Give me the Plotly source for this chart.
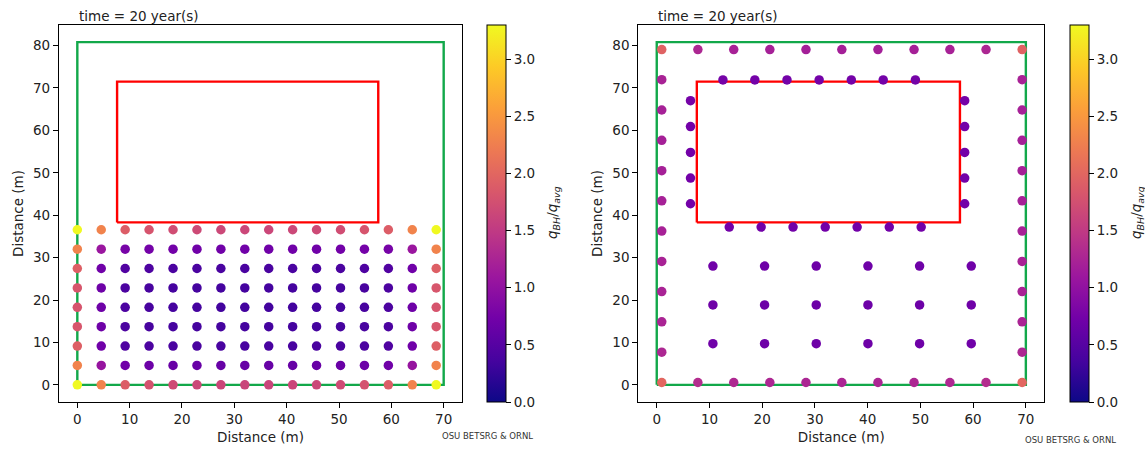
import plotly.graph_objects as go

W, H = 1145, 449

# ---------------- data ----------------
X_TICKS = [0, 10, 20, 30, 40, 50, 60, 70]
Y_TICKS = [0, 10, 20, 30, 40, 50, 60, 70, 80]
CB_TICKS = [0.0, 0.5, 1.0, 1.5, 2.0, 2.5, 3.0]
Q_MIN, Q_MAX = 0.0, 3.3

# property boundary (green) and building footprint (red)
FIELD_X = [0, 70, 70, 0, 0]
FIELD_Y = [0, 0, 80.8, 80.8, 0]
BUILDING_X = [7.6, 57.5, 57.5, 7.6, 7.6]
BUILDING_Y = [38.3, 38.3, 71.5, 71.5, 38.3]

# left panel: rectangular borehole grid
LEFT_COLS = [0.0, 4.57, 9.14, 13.71, 18.29, 22.86, 27.43, 32.0, 36.57,
             41.14, 45.71, 50.29, 54.86, 59.43, 64.0, 68.57]
LEFT_ROWS = [0.0, 4.57, 9.14, 13.71, 18.29, 22.86, 27.43, 32.0, 36.57]
LEFT_Q = [
    [3.30, 2.30, 1.90, 1.78, 1.70, 1.66, 1.64, 1.63, 1.63, 1.64, 1.66, 1.70, 1.78, 1.90, 2.30, 3.30],
    [2.30, 1.05, 0.72, 0.68, 0.66, 0.65, 0.64, 0.64, 0.64, 0.64, 0.65, 0.66, 0.68, 0.72, 1.05, 2.30],
    [1.92, 0.72, 0.45, 0.42, 0.40, 0.40, 0.39, 0.39, 0.39, 0.39, 0.40, 0.40, 0.42, 0.45, 0.72, 1.92],
    [1.82, 0.70, 0.42, 0.38, 0.37, 0.36, 0.36, 0.36, 0.36, 0.36, 0.36, 0.37, 0.38, 0.42, 0.70, 1.82],
    [1.80, 0.70, 0.42, 0.38, 0.36, 0.36, 0.35, 0.35, 0.35, 0.35, 0.36, 0.36, 0.38, 0.42, 0.70, 1.80],
    [1.82, 0.70, 0.42, 0.38, 0.37, 0.36, 0.36, 0.36, 0.36, 0.36, 0.36, 0.37, 0.38, 0.42, 0.70, 1.82],
    [1.92, 0.72, 0.46, 0.43, 0.41, 0.41, 0.40, 0.40, 0.40, 0.40, 0.41, 0.41, 0.43, 0.46, 0.72, 1.92],
    [2.30, 1.08, 0.78, 0.75, 0.73, 0.72, 0.72, 0.72, 0.72, 0.72, 0.72, 0.73, 0.75, 0.78, 1.08, 2.30],
    [3.30, 2.30, 1.90, 1.80, 1.72, 1.68, 1.66, 1.65, 1.65, 1.66, 1.68, 1.72, 1.80, 1.90, 2.30, 3.30],
]

# right panel: outer perimeter ring
OUT_COLS = [0.95, 7.8, 14.6, 21.45, 28.3, 35.1, 41.95, 48.8, 55.6, 62.45, 69.3]
OUT_ROWS = [0.56, 7.7, 14.85, 22.0, 29.1, 36.25, 43.4, 50.5, 57.65, 64.8, 71.95, 79.06]
OUT_Q_BOTTOM = [2.00, 1.35, 1.30, 1.28, 1.27, 1.27, 1.27, 1.28, 1.30, 1.35, 2.00]
OUT_Q_TOP = [1.95, 1.28, 1.22, 1.20, 1.19, 1.19, 1.19, 1.20, 1.22, 1.28, 1.95]
OUT_Q_LEFT = [1.28, 1.25, 1.24, 1.23, 1.22, 1.21, 1.20, 1.20, 1.21, 1.23]
OUT_Q_RIGHT = [1.28, 1.25, 1.24, 1.23, 1.22, 1.21, 1.20, 1.20, 1.21, 1.23]

# right panel: ring around the building
RING_TOP_X = [12.55, 18.6, 24.7, 30.8, 36.9, 42.95, 49.05]
RING_TOP_Y = 71.9
RING_BOT_X = [13.75, 19.8, 25.85, 31.95, 38.0, 44.1, 50.15]
RING_BOT_Y = 37.2
RING_SIDE_Y = [42.7, 48.75, 54.8, 60.9, 67.0]
RING_LEFT_X = 6.4
RING_RIGHT_X = 58.4
RING_Q_TOP = [0.76, 0.75, 0.75, 0.75, 0.75, 0.75, 0.76]
RING_Q_BOT = [0.74, 0.73, 0.73, 0.73, 0.73, 0.73, 0.74]
RING_Q_LEFT = [0.74, 0.74, 0.74, 0.74, 0.76]
RING_Q_RIGHT = [0.74, 0.74, 0.74, 0.74, 0.76]

# right panel: interior grid
IN_COLS = [10.65, 20.45, 30.25, 40.05, 49.85, 59.65]
IN_ROWS = [9.7, 18.85, 28.0]
IN_Q = [
    [0.72, 0.70, 0.70, 0.70, 0.70, 0.72],
    [0.71, 0.69, 0.69, 0.69, 0.69, 0.71],
    [0.72, 0.70, 0.70, 0.70, 0.70, 0.72],
]

# ---------------- build point lists ----------------
lx, ly, lq = [], [], []
for j, yv in enumerate(LEFT_ROWS):
    for i, xv in enumerate(LEFT_COLS):
        lx.append(xv); ly.append(yv); lq.append(LEFT_Q[j][i])

rx, ry, rq = [], [], []
for i, xv in enumerate(OUT_COLS):
    rx.append(xv); ry.append(OUT_ROWS[0]); rq.append(OUT_Q_BOTTOM[i])
    rx.append(xv); ry.append(OUT_ROWS[-1]); rq.append(OUT_Q_TOP[i])
for k, yv in enumerate(OUT_ROWS[1:-1]):
    rx.append(OUT_COLS[0]); ry.append(yv); rq.append(OUT_Q_LEFT[k])
    rx.append(OUT_COLS[-1]); ry.append(yv); rq.append(OUT_Q_RIGHT[k])
for i, xv in enumerate(RING_TOP_X):
    rx.append(xv); ry.append(RING_TOP_Y); rq.append(RING_Q_TOP[i])
for i, xv in enumerate(RING_BOT_X):
    rx.append(xv); ry.append(RING_BOT_Y); rq.append(RING_Q_BOT[i])
for k, yv in enumerate(RING_SIDE_Y):
    rx.append(RING_LEFT_X); ry.append(yv); rq.append(RING_Q_LEFT[k])
    rx.append(RING_RIGHT_X); ry.append(yv); rq.append(RING_Q_RIGHT[k])
for j, yv in enumerate(IN_ROWS):
    for i, xv in enumerate(IN_COLS):
        rx.append(xv); ry.append(yv); rq.append(IN_Q[j][i])

# ---------------- figure ----------------
FONT = "DejaVu Sans"
FS = 13.5
GREEN = "#12a84a"
RED = "#ff0000"

fig = go.Figure()


def add_panel(xa, ya, px, py, pq, cb_x):
    fig.add_trace(go.Scatter(x=FIELD_X, y=FIELD_Y, mode="lines",
                             line=dict(color=GREEN, width=2.4),
                             xaxis=xa, yaxis=ya, showlegend=False, hoverinfo="skip"))
    fig.add_trace(go.Scatter(x=BUILDING_X, y=BUILDING_Y, mode="lines",
                             line=dict(color=RED, width=2.4),
                             xaxis=xa, yaxis=ya, showlegend=False, hoverinfo="skip"))
    fig.add_trace(go.Scatter(
        x=px, y=py, mode="markers", xaxis=xa, yaxis=ya, showlegend=False,
        marker=dict(size=9.5, color=pq, colorscale="Plasma", cmin=Q_MIN, cmax=Q_MAX,
                    line=dict(width=0),
                    colorbar=dict(x=cb_x / W, xanchor="left", xpad=0, ypad=0,
                                  y=(H - 25) / H, yanchor="top",
                                  len=377 / H, lenmode="fraction",
                                  thickness=19, thicknessmode="pixels",
                                  outlinewidth=1, outlinecolor="black",
                                  ticks="outside", ticklen=5, tickcolor="black",
                                  tickvals=CB_TICKS,
                                  ticktext=[f"{v:.1f}" for v in CB_TICKS],
                                  tickfont=dict(family=FONT, size=FS, color="#222"))),
    ))


add_panel("x", "y", lx, ly, lq, 487.3)
add_panel("x2", "y2", rx, ry, rq, 1070.3)

axis_common = dict(ticks="outside", ticklen=5, tickwidth=1, tickcolor="black",
                   showline=True, linecolor="black", linewidth=1.2, mirror=True,
                   showgrid=False, zeroline=False, automargin=False,
                   tickfont=dict(family=FONT, size=FS, color="#222"))

ydom = [47 / H, 424 / H]
fig.update_layout(
    width=W, height=H,
    margin=dict(l=0, r=0, t=0, b=0),
    paper_bgcolor="white", plot_bgcolor="white",
    font=dict(family=FONT, size=FS, color="#222"),
    xaxis=dict(domain=[59 / W, 462 / W], range=[-3.5, 73.5], tickvals=X_TICKS, anchor="y",
               title=dict(text="Distance (m)", standoff=6, font=dict(family=FONT, size=FS)),
               **axis_common),
    yaxis=dict(domain=ydom, range=[-4.04, 84.84], tickvals=Y_TICKS, anchor="x",
               title=dict(text="Distance (m)", standoff=6, font=dict(family=FONT, size=FS)),
               **axis_common),
    xaxis2=dict(domain=[638.3 / W, 1044.3 / W], range=[-3.5, 73.5], tickvals=X_TICKS, anchor="y2",
                title=dict(text="Distance (m)", standoff=6, font=dict(family=FONT, size=FS)),
                **axis_common),
    yaxis2=dict(domain=ydom, range=[-4.04, 84.84], tickvals=Y_TICKS, anchor="x2",
                title=dict(text="Distance (m)", standoff=6, font=dict(family=FONT, size=FS)),
                **axis_common),
)

annos = [
    dict(text="time = 20 year(s)", x=77 / W, y=(H - 15.5) / H, xanchor="left", yanchor="middle"),
    dict(text="time = 20 year(s)", x=656 / W, y=(H - 15.5) / H, xanchor="left", yanchor="middle"),
    dict(text="<i>q</i><sub><i>BH</i></sub>/<i>q</i><sub><i>avg</i></sub>", x=553 / W, y=(H - 213) / H,
         xanchor="center", yanchor="middle", textangle=-90),
    dict(text="<i>q</i><sub><i>BH</i></sub>/<i>q</i><sub><i>avg</i></sub>", x=1137 / W, y=(H - 213) / H,
         xanchor="center", yanchor="middle", textangle=-90),
]
for a in annos:
    a.update(xref="paper", yref="paper", showarrow=False,
             font=dict(family=FONT, size=FS, color="#222"))
    fig.add_annotation(**a)

for cx, cy in [(488, 436), (1070, 440)]:
    fig.add_annotation(text="OSU BETSRG &amp; ORNL", x=cx / W, y=(H - cy) / H, xref="paper", yref="paper",
                       xanchor="center", yanchor="middle", showarrow=False,
                       font=dict(family=FONT, size=8.5, color="#333"))

fig.write_html("out.html", config={"displayModeBar": False},
               post_script="document.body.style.margin='0';document.body.style.overflow='hidden';")
